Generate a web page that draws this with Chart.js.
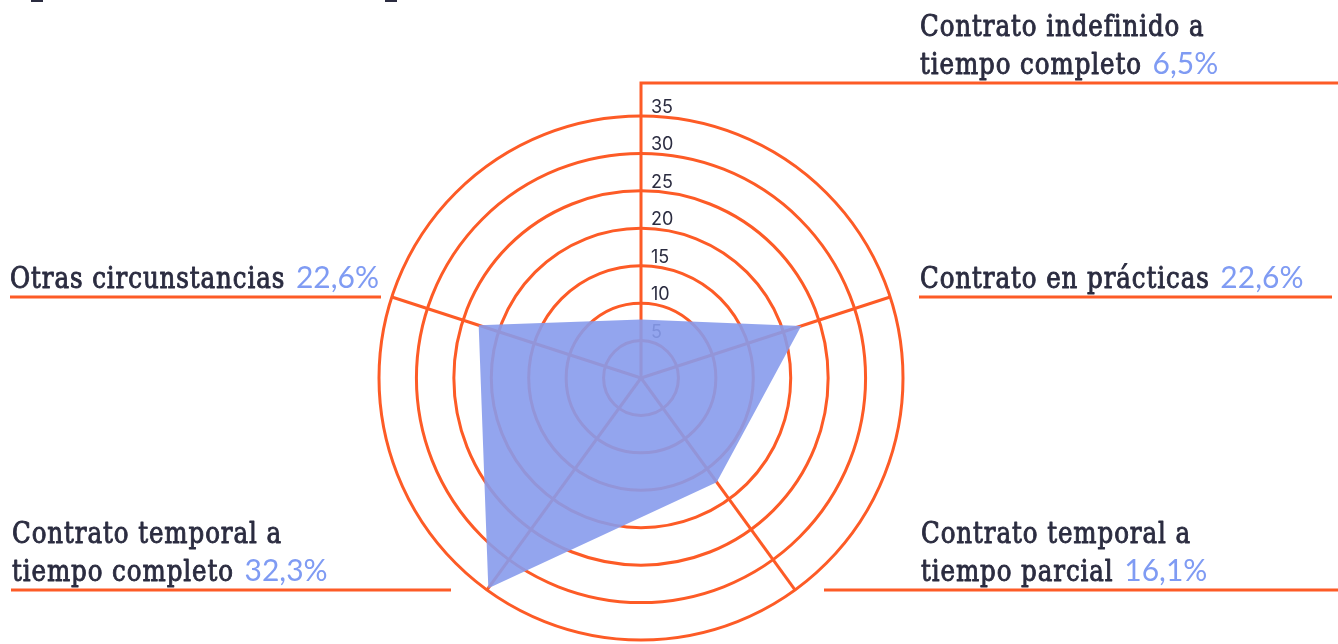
<!DOCTYPE html>
<html>
<head>
<meta charset="utf-8">
<script src="https://cdn.jsdelivr.net/npm/chart.js@4.4.1/dist/chart.umd.min.js"></script>
<style>
  html, body { margin: 0; padding: 0; background: #ffffff; }
  #wrap { width: 1338px; height: 644px; position: relative; }
</style>
</head>
<body>
<div id="wrap"><canvas id="c" width="1338" height="644"></canvas></div>
<script>
// ---- data ----
const categories = [
  ["Contrato indefinido a", "tiempo completo"],
  ["Contrato en prácticas"],
  ["Contrato temporal a", "tiempo parcial"],
  ["Contrato temporal a", "tiempo completo"],
  ["Otras circunstancias"]
];
const valueLabels = ["6,5%", "22,6%", "16,1%", "32,3%", "22,6%"];
const values = [7.8, 22.5, 17.2, 34.7, 22.8];
const tickValues = [5, 10, 15, 20, 25, 30, 35];

// ---- style ----
const ORANGE = '#fd5b26';
const DARK = '#2b2c40';
const BLUE_TXT = '#7f9bf3';
const FILL = 'rgba(135,155,236,0.9)';
const SERIF = '"DejaVu Serif Condensed", "DejaVu Serif", serif';
const SERIF_FONT = '30px ' + SERIF;
const VALUE_FONT = '30px Lato, "Open Sans", sans-serif';

const labelLayout = [
  { x: 920, lineFrom: 640, lineTo: 1338, vertical: true, rise: 33 },
  { x: 920, lineFrom: 919, lineTo: 1332 },
  { x: 921, lineFrom: 824, lineTo: 1338 },
  { x: 12,  lineFrom: 11,  lineTo: 451 },
  { x: 10,  lineFrom: 10,  lineTo: 381 }
];

const decorPlugin = {
  id: 'decor',
  beforeDatasetsDraw(chart) {
    const scale = chart.scales.r;
    const ctx = chart.ctx;
    ctx.save();
    ctx.font = '18px Inter, "Open Sans", sans-serif';
    ctx.fillStyle = DARK;
    ctx.textAlign = 'left';
    ctx.textBaseline = 'alphabetic';
    tickValues.forEach(v => {
      const d = scale.getDistanceFromCenterForValue(v);
      ctx.fillText(String(v), scale.xCenter + 10, scale.yCenter - d - 3);
    });
    ctx.restore();
  },
  afterDraw(chart) {
    const scale = chart.scales.r;
    const ctx = chart.ctx;
    ctx.save();
    // leader lines
    ctx.strokeStyle = ORANGE;
    ctx.lineWidth = 3;
    ctx.lineCap = 'butt';
    const baseYs = [];
    categories.forEach((c, i) => {
      const L = labelLayout[i];
      const p = scale.getPointPosition(i, scale.drawingArea);
      let ly = p.y;
      ctx.beginPath();
      if (L.vertical) {
        ly = p.y - L.rise;
        ctx.moveTo(p.x, p.y);
        ctx.lineTo(p.x, ly);
        ctx.lineTo(L.lineTo, ly);
      } else {
        ctx.moveTo(L.lineFrom, ly);
        ctx.lineTo(L.lineTo, ly);
      }
      ctx.stroke();
      baseYs.push(ly);
    });
    // label text
    ctx.font = SERIF_FONT;
    if ('letterSpacing' in ctx) ctx.letterSpacing = '1px';
    const sx = 270 / ctx.measureText('Contrato temporal a').width;
    ctx.textBaseline = 'alphabetic';
    ctx.textAlign = 'left';
    categories.forEach((lines, i) => {
      const L = labelLayout[i];
      const lastBase = baseYs[i] - 9;
      lines.forEach((txt, j) => {
        const y = lastBase - (lines.length - 1 - j) * 38;
        const isLast = j === lines.length - 1;
        const darkTxt = isLast ? txt + ' ' : txt;
        ctx.font = SERIF_FONT;
        if ('letterSpacing' in ctx) ctx.letterSpacing = '1px';
        const w = ctx.measureText(darkTxt).width * sx;
        ctx.save();
        ctx.translate(L.x, y);
        ctx.scale(sx, 1);
        ctx.fillStyle = DARK;
        ctx.strokeStyle = DARK;
        ctx.lineWidth = 0.9;
        ctx.lineJoin = 'round';
        ctx.fillText(darkTxt, 0, 0);
        ctx.strokeText(darkTxt, 0, 0);
        ctx.restore();
        if (isLast) {
          ctx.font = VALUE_FONT;
          if ('letterSpacing' in ctx) ctx.letterSpacing = '0px';
          ctx.fillStyle = BLUE_TXT;
          ctx.fillText(valueLabels[i], L.x + w + 2, y);
        }
      });
    });
    // cut-off fragments at top edge
    ctx.fillStyle = DARK;
    ctx.fillRect(31, 0, 12, 2);
    ctx.fillRect(385, 0, 12, 2);
    ctx.restore();
  }
};

new Chart(document.getElementById('c'), {
  type: 'radar',
  data: {
    labels: categories,
    datasets: [{
      data: values,
      backgroundColor: FILL,
      borderWidth: 0,
      borderColor: 'rgba(0,0,0,0)',
      pointRadius: 0,
      pointHoverRadius: 0,
      fill: true
    }]
  },
  options: {
    responsive: false,
    animation: false,
    events: [],
    layout: { padding: { top: 116, bottom: 4, left: 0, right: 56 } },
    plugins: { legend: { display: false }, tooltip: { enabled: false } },
    scales: {
      r: {
        min: 0,
        max: 35,
        ticks: { stepSize: 5, display: false },
        grid: { circular: true, color: ORANGE, lineWidth: 3 },
        angleLines: { color: ORANGE, lineWidth: 3 },
        pointLabels: { display: false }
      }
    }
  },
  plugins: [decorPlugin]
});
</script>
</body>
</html>
